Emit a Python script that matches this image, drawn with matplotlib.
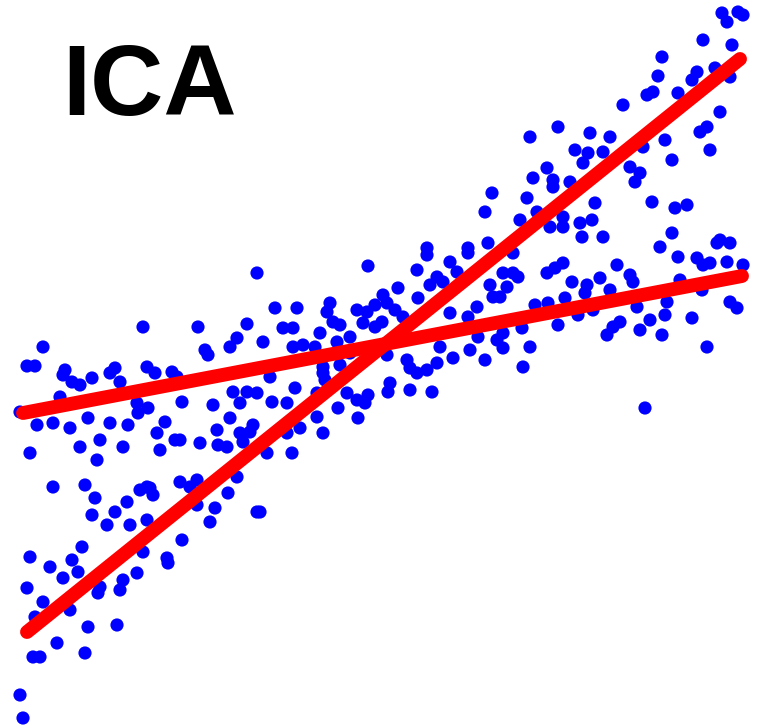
import matplotlib
matplotlib.use("Agg")
import matplotlib.pyplot as plt

# scatter points (x, y), y grows downward
pts = [
    # upper right cloud
    (722, 13), (727, 22), (738, 12), (743, 15), (703, 40), (732, 45), (662, 57),
    (658, 76), (697, 72), (692, 80), (730, 77), (715, 68), (647, 95), (653, 92),
    (678, 93), (623, 105), (720, 112), (558, 127), (530, 137), (590, 133),
    (610, 137), (700, 132), (707, 127), (710, 150), (665, 140), (672, 160),
    (575, 150), (588, 153), (583, 163), (603, 152), (643, 147), (630, 167),
    (640, 173), (635, 182), (547, 168), (533, 178), (553, 180), (553, 187),
    (570, 182), (527, 198), (595, 203), (652, 202), (675, 208), (687, 205),
    (520, 220), (537, 212), (563, 217), (563, 227), (580, 223), (592, 220),
    (582, 237), (603, 237), (550, 227), (672, 233), (720, 240), (730, 243),
    (660, 247), (492, 193), (485, 212), (488, 243), (468, 248), (427, 248),
    # left middle
    (257, 273), (143, 327), (198, 327), (247, 324), (237, 338), (230, 347),
    (43, 347), (205, 350), (208, 355), (27, 366), (35, 366), (65, 370),
    (63, 375), (110, 373), (115, 368), (92, 378), (72, 382), (80, 385),
    (120, 382), (147, 367), (155, 373), (172, 372), (177, 377), (60, 397),
    (20, 412), (37, 425), (53, 423), (70, 428), (88, 418), (110, 423),
    (128, 425), (138, 413), (148, 408), (137, 403), (182, 402), (165, 422),
    (157, 433), (175, 440), (180, 440), (160, 450), (200, 443), (213, 405),
    (217, 430), (218, 445), (227, 447), (230, 418), (240, 403), (233, 392),
    (247, 392), (240, 433), (243, 442), (253, 425), (80, 447), (100, 440),
    (97, 460), (123, 447), (30, 453), (53, 487), (85, 485), (180, 482),
    (197, 480), (237, 477), (147, 487), (140, 490),
    # lower left
    (95, 498), (92, 515), (115, 512), (127, 502), (150, 488), (153, 495),
    (107, 525), (130, 525), (147, 520), (190, 487), (197, 505), (215, 508),
    (210, 522), (228, 493), (257, 512), (182, 540), (167, 558), (168, 563),
    (143, 552), (137, 573), (123, 580), (120, 590), (100, 587), (98, 593),
    (82, 547), (72, 560), (78, 572), (63, 578), (50, 567), (30, 557),
    (27, 588), (43, 602), (70, 610), (35, 617), (88, 627), (117, 625),
    (57, 643), (33, 657), (40, 657), (85, 653), (20, 695), (23, 718),
    (260, 512),
    # centre
    (368, 266), (427, 255), (417, 270), (450, 262), (468, 253), (457, 272),
    (437, 277), (430, 285), (443, 282), (398, 288), (383, 295), (375, 305),
    (387, 303), (367, 312), (357, 310), (395, 310), (403, 317), (418, 298),
    (382, 322), (375, 327), (363, 323), (330, 303), (327, 312), (275, 308),
    (297, 308), (283, 328), (293, 328), (333, 322), (340, 325), (320, 333),
    (350, 337), (337, 342), (263, 342), (293, 347), (303, 345), (315, 347),
    (350, 353), (323, 367), (340, 365), (270, 377), (295, 388), (257, 393),
    (272, 402), (287, 403), (317, 393), (323, 373), (325, 380), (347, 393),
    (357, 400), (368, 395), (365, 403), (338, 408), (317, 417), (358, 418),
    (300, 428), (323, 433), (250, 432), (287, 433), (267, 453), (292, 453),
    (387, 355), (407, 360), (410, 368), (417, 373), (427, 370), (390, 383),
    (388, 392), (410, 390), (432, 392), (440, 347), (437, 363), (453, 358),
    (470, 350), (485, 360), (450, 313), (468, 317), (477, 307), (490, 285),
    (493, 297), (503, 273), (497, 340), (503, 333), (478, 337),
    # right middle
    (678, 257), (697, 258), (703, 265), (710, 263), (727, 262), (743, 265),
    (717, 243), (513, 253), (513, 273), (518, 277), (507, 287), (500, 297),
    (547, 273), (555, 268), (563, 263), (572, 282), (587, 285), (585, 293),
    (600, 278), (617, 265), (630, 275), (633, 282), (610, 290), (565, 298),
    (535, 305), (548, 303), (578, 315), (558, 325), (593, 310), (637, 307),
    (667, 302), (665, 315), (650, 320), (640, 330), (662, 335), (620, 322),
    (613, 327), (607, 335), (692, 318), (730, 302), (737, 308), (702, 290),
    (707, 347), (522, 328), (530, 347), (503, 348), (523, 367), (645, 408),
    (680, 280),
]
xs = [p[0] for p in pts]
ys = [p[1] for p in pts]

# the two fitted directions
line1_x = [27, 740]
line1_y = [632, 59]
line2_x = [23, 742]
line2_y = [413, 276]

fig = plt.figure(figsize=(7.61, 7.28), dpi=100)
ax = fig.add_axes([0, 0, 1, 1])
ax.set_xlim(0, 761)
ax.set_ylim(728, 0)
ax.axis('off')

ax.scatter(xs, ys, s=90, c='#0000ff', edgecolors='none', zorder=2)
ax.plot(line1_x, line1_y, color='#ff0000', lw=10, solid_capstyle='round', zorder=3)
ax.plot(line2_x, line2_y, color='#ff0000', lw=10, solid_capstyle='round', zorder=3)

ax.text(62, 115, 'ICA', fontsize=73, fontweight='bold',
        family=['Liberation Sans', 'DejaVu Sans'], color='black',
        ha='left', va='baseline')

fig.savefig('out.png', dpi=100)
